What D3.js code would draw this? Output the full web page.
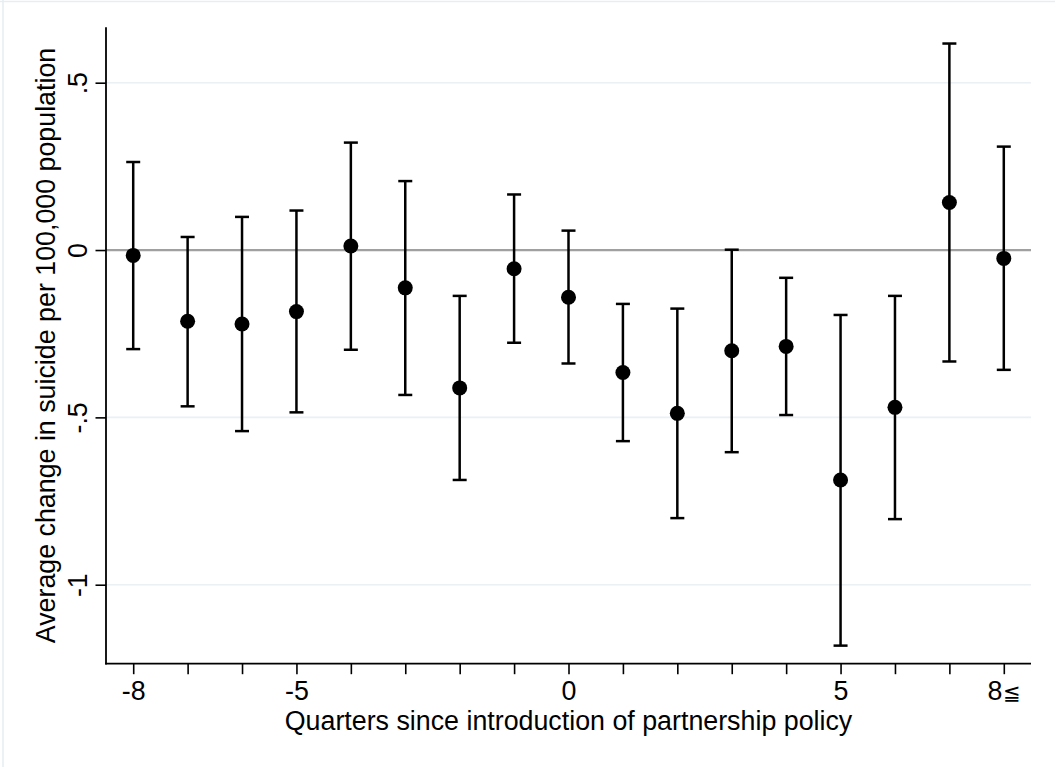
<!DOCTYPE html>
<html>
<head>
<meta charset="utf-8">
<script src="https://cdn.jsdelivr.net/npm/d3@7"></script>
<style>
  html, body { margin: 0; padding: 0; background: #fff; }
  svg { display: block; }
  text { font-family: "Liberation Sans", Arial, Helvetica, sans-serif; fill: #000; }
</style>
</head>
<body>
<svg id="chart" width="1055" height="767"></svg>
<script>
// Event-study estimates: quarters relative to policy introduction
const quarters = [-8, -7, -6, -5, -4, -3, -2, -1, 0, 1, 2, 3, 4, 5, 6, 7, 8];
const estimate = [-0.016, -0.213, -0.221, -0.184, 0.012, -0.113, -0.412, -0.056, -0.141, -0.366, -0.488, -0.301, -0.288, -0.687, -0.470, 0.142, -0.025];
const ciLower  = [-0.296, -0.467, -0.541, -0.485, -0.298, -0.433, -0.687, -0.277, -0.339, -0.571, -0.801, -0.604, -0.493, -1.182, -0.804, -0.333, -0.358];
const ciUpper  = [0.263, 0.039, 0.099, 0.118, 0.321, 0.206, -0.137, 0.166, 0.058, -0.161, -0.175, 0.001, -0.083, -0.194, -0.137, 0.617, 0.309];

const yTicks = [-1, -0.5, 0, 0.5];
const yTickLabels = ["-1", "-.5", "0", ".5"];
const xLabelled = [-8, -5, 0, 5, 8];
const xTickLabels = ["-8", "-5", "0", "5", "8"];
const lastTickSuffix = "\u2266";

const xTitle = "Quarters since introduction of partnership policy";
const yTitle = "Average change in suicide per 100,000 population";

(function () {
const svg = d3.select("#chart");
const FONT = 26.8;

// plot region
const pLeft = 106, pRight = 1031, pTop = 27.3, pBottom = 663.7;

const x = d3.scaleLinear().domain([-8.5, 8.5]).range([pLeft, pRight]);
const y = d3.scaleLinear().domain([-1.236, 0.6655]).range([pBottom, pTop]);

// faint outer frame of the graph region
svg.append("line").attr("x1", 0).attr("x2", 1055).attr("y1", 1.5).attr("y2", 1.5)
  .attr("stroke", "#e6eef1").attr("stroke-width", 1.5);
svg.append("line").attr("x1", 3).attr("x2", 3).attr("y1", 0).attr("y2", 767)
  .attr("stroke", "#e6eef1").attr("stroke-width", 1.5);

// horizontal gridlines
svg.append("g").selectAll("line")
  .data(yTicks.filter(v => v !== 0))
  .join("line")
  .attr("x1", pLeft).attr("x2", pRight)
  .attr("y1", d => y(d)).attr("y2", d => y(d))
  .attr("stroke", "#eaf0f3").attr("stroke-width", 1.6);

// zero reference line
svg.append("line")
  .attr("x1", pLeft).attr("x2", pRight)
  .attr("y1", y(0)).attr("y2", y(0))
  .attr("stroke", "#a0a0a0").attr("stroke-width", 2.2);

// y axis
const yAxis = d3.axisLeft(y)
  .tickValues(yTicks)
  .tickFormat((d, i) => yTickLabels[i])
  .tickSize(10.5)
  .tickPadding(0);
const gy = svg.append("g").attr("transform", `translate(${pLeft},0)`).call(yAxis);
gy.select(".domain").remove();
gy.selectAll(".tick line").attr("stroke", "#000").attr("stroke-width", 1.6);
gy.selectAll(".tick text")
  .attr("x", null).attr("dy", null)
  .attr("transform", "translate(-19.3,0) rotate(-90)")
  .attr("text-anchor", "middle")
  .attr("font-size", FONT)
  .attr("font-family", "Liberation Sans, Arial, sans-serif");
gy.append("line").attr("x1", 0).attr("x2", 0).attr("y1", pTop).attr("y2", pBottom + 0.8)
  .attr("stroke", "#000").attr("stroke-width", 1.8);

// x axis
const xAxis = d3.axisBottom(x)
  .tickValues(quarters)
  .tickFormat(d => { const i = xLabelled.indexOf(d); return i >= 0 ? xTickLabels[i] : ""; })
  .tickSize(10.5)
  .tickPadding(0);
const gx = svg.append("g").attr("transform", `translate(0,${pBottom})`).call(xAxis);
gx.select(".domain").remove();
gx.selectAll(".tick line").attr("stroke", "#000").attr("stroke-width", 1.6);
gx.selectAll(".tick text")
  .attr("y", 36.5).attr("dy", null)
  .attr("font-size", FONT)
  .attr("font-family", "Liberation Sans, Arial, sans-serif");
// open-ended final bin: "8≦" with a smaller relation sign
gx.selectAll(".tick").filter(d => d === quarters[quarters.length - 1]).select("text")
  .append("tspan").attr("font-size", 21).attr("dx", 0.5).text(lastTickSuffix);
gx.append("line").attr("x1", pLeft - 0.8).attr("x2", pRight).attr("y1", 0).attr("y2", 0)
  .attr("stroke", "#000").attr("stroke-width", 1.8);

// confidence intervals
const data = quarters.map((q, i) => ({ q, est: estimate[i], lo: ciLower[i], hi: ciUpper[i] }));
const capHalf = 7;
const bars = svg.append("g").attr("stroke", "#000").attr("stroke-width", 2.5);
bars.selectAll("line.stem").data(data).join("line").attr("class", "stem")
  .attr("x1", d => x(d.q)).attr("x2", d => x(d.q))
  .attr("y1", d => y(d.lo)).attr("y2", d => y(d.hi));
bars.selectAll("line.capHi").data(data).join("line").attr("class", "capHi")
  .attr("x1", d => x(d.q) - capHalf).attr("x2", d => x(d.q) + capHalf)
  .attr("y1", d => y(d.hi)).attr("y2", d => y(d.hi));
bars.selectAll("line.capLo").data(data).join("line").attr("class", "capLo")
  .attr("x1", d => x(d.q) - capHalf).attr("x2", d => x(d.q) + capHalf)
  .attr("y1", d => y(d.lo)).attr("y2", d => y(d.lo));

// point estimates
svg.append("g").selectAll("circle").data(data).join("circle")
  .attr("cx", d => x(d.q)).attr("cy", d => y(d.est))
  .attr("r", 7.5).attr("fill", "#000");

// axis titles
svg.append("text")
  .attr("x", (pLeft + pRight) / 2).attr("y", 730)
  .attr("text-anchor", "middle").attr("font-size", FONT)
  .text(xTitle);
svg.append("text")
  .attr("transform", `translate(55,${(pTop + pBottom) / 2}) rotate(-90)`)
  .attr("text-anchor", "middle").attr("font-size", FONT)
  .text(yTitle);
})();
</script>
</body>
</html>
